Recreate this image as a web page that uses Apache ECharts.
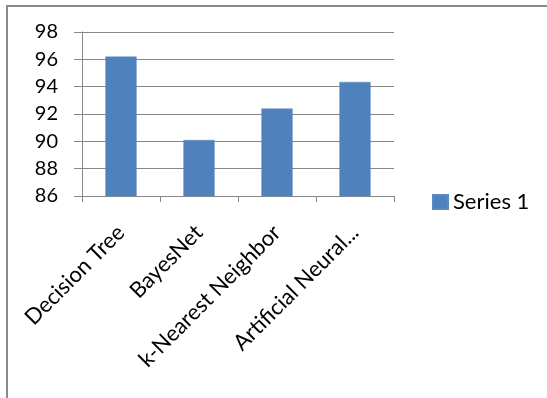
<!DOCTYPE html>
<html>
<head>
<meta charset="utf-8">
<script src="https://cdn.jsdelivr.net/npm/echarts@6/dist/echarts.min.js"></script>
<style>
html,body{margin:0;padding:0;background:#fff;}
#chart{width:547px;height:398px;}
</style>
</head>
<body>
<div id="chart"></div>
<script>
const categories = ["Decision Tree", "BayesNet", "k-Nearest Neighbor", "Artificial Neural..."];
const series1 = [96.2, 90.1, 92.4, 94.35];
const seriesName = "Series 1";
const yMin = 86, yMax = 98, yStep = 2;

const chart = echarts.init(document.getElementById('chart'));
const FONT = 'Lato';
chart.setOption({
  animation: false,
  backgroundColor: '#ffffff',
  graphic: [{
    type: 'rect',
    shape: { x: 7, y: 6, width: 600, height: 450 },
    style: { fill: 'none', stroke: '#8c8c8c', lineWidth: 2 },
    silent: true
  }],
  grid: { left: 82, right: 153, top: 32, bottom: 202 },
  legend: {
    data: [seriesName],
    left: 432, top: 191, padding: 0,
    itemWidth: 15, itemHeight: 14, itemGap: 0,
    icon: 'rect',
    textStyle: { fontFamily: FONT, fontSize: 22, color: '#000' }
  },
  xAxis: {
    type: 'category',
    data: categories,
    axisLine: { lineStyle: { color: '#868686', width: 1 } },
    axisTick: { show: true, length: 6, alignWithLabel: false, lineStyle: { color: '#868686' } },
    axisLabel: { rotate: 45, margin: 33, interval: 0, fontFamily: FONT, fontSize: 22, color: '#000' }
  },
  yAxis: {
    type: 'value',
    min: yMin, max: yMax, interval: yStep,
    axisLine: { show: true, lineStyle: { color: '#868686', width: 1 } },
    axisTick: { show: true, length: 8, lineStyle: { color: '#868686' } },
    axisLabel: { margin: 24, fontFamily: FONT, fontSize: 20, color: '#000' },
    splitLine: { show: true, lineStyle: { color: '#868686', width: 1 } }
  },
  series: [{
    name: seriesName,
    type: 'bar',
    data: series1,
    barWidth: '40%',
    itemStyle: { color: '#4F81BD', borderColor: '#5a8ac4', borderWidth: 0.5 }
  }]
});
</script>
</body>
</html>
